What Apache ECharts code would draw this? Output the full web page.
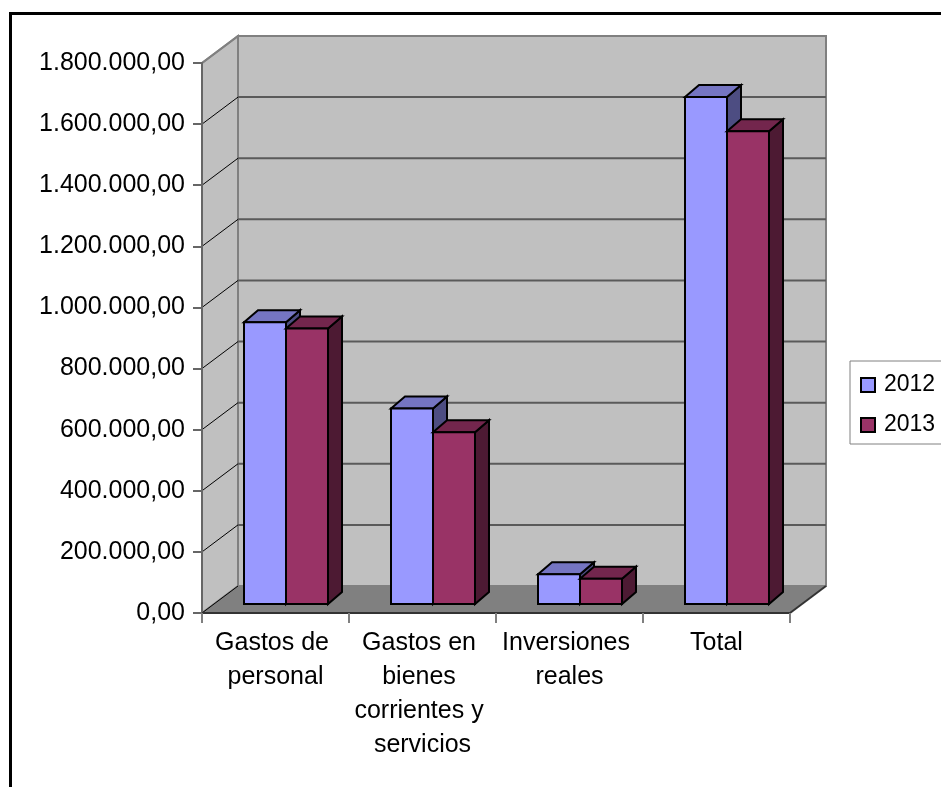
<!DOCTYPE html>
<html>
<head>
<meta charset="utf-8">
<script src="https://cdn.jsdelivr.net/npm/echarts@6/dist/echarts.min.js"></script>
<style>
  html, body { margin: 0; padding: 0; background: #fff; }
  #chart { width: 941px; height: 787px; }
</style>
</head>
<body>
<div id="chart"></div>
<script>
// Budget chapters, two years
const categories = ['Gastos de personal', 'Gastos en bienes corrientes y servicios', 'Inversiones reales', 'Total'];
const seriesNames = ['2012', '2013'];
const values2012 = [922000, 640000, 97000, 1659000];
const values2013 = [902000, 562000, 83000, 1547000];
const yMin = 0;
const yMax = 1800000;
const yStep = 200000;

// 3D look: depth of the whole plot box and of the bars (pixels)
const DEPTH_DX = 36, DEPTH_DY = -27;
const FRONT_DX = 10.5, FRONT_DY = -9;
const BAR_DX = 14, BAR_DY = -12;
const BAR_RATIO = 0.2857;

const FONT = '"Liberation Sans", Arial, sans-serif';

const palette = {
  '2012': { front: '#9999FF', top: '#7575C2', side: '#4D4D82' },
  '2013': { front: '#993366', top: '#73264D', side: '#4D1A33' }
};

function formatEs(v) {
  const s = Math.round(v).toString().replace(/\B(?=(\d{3})+(?!\d))/g, '.');
  return s + ',00';
}

const tickValues = [];
for (let t = yMin; t <= yMax; t += yStep) tickValues.push(t);

// walls, floor and gridlines of the 3D box
function renderWalls(params, api) {
  const cs = params.coordSys;
  const x0 = cs.x, x1 = cs.x + cs.width;
  const yTop = api.coord([0, yMax])[1];
  const yBase = api.coord([0, yMin])[1];
  const children = [];
  // back wall
  children.push({ type: 'polygon', shape: { points: [
    [x0 + DEPTH_DX, yTop + DEPTH_DY], [x1 + DEPTH_DX, yTop + DEPTH_DY],
    [x1 + DEPTH_DX, yBase + DEPTH_DY], [x0 + DEPTH_DX, yBase + DEPTH_DY]] },
    style: { fill: '#C0C0C0', stroke: '#808080', lineWidth: 2 } });
  // side wall
  children.push({ type: 'polygon', shape: { points: [
    [x0, yTop], [x0 + DEPTH_DX, yTop + DEPTH_DY],
    [x0 + DEPTH_DX, yBase + DEPTH_DY], [x0, yBase]] },
    style: { fill: '#C0C0C0', stroke: '#808080', lineWidth: 2 } });
  // floor
  children.push({ type: 'polygon', shape: { points: [
    [x0, yBase], [x0 + DEPTH_DX, yBase + DEPTH_DY],
    [x1 + DEPTH_DX, yBase + DEPTH_DY], [x1, yBase]] },
    style: { fill: '#808080', stroke: null } });
  children.push({ type: 'line', shape: { x1: x1, y1: yBase, x2: x1 + DEPTH_DX, y2: yBase + DEPTH_DY },
    style: { stroke: '#333333', lineWidth: 2 } });
  tickValues.forEach(function (t) {
    const y = api.coord([0, t])[1];
    if (t > yMin && t < yMax) {
      children.push({ type: 'line', shape: { x1: x0 + DEPTH_DX, y1: y + DEPTH_DY, x2: x1 + DEPTH_DX, y2: y + DEPTH_DY },
        style: { stroke: '#5A5A5A', lineWidth: 2 } });
    }
    children.push({ type: 'line', shape: { x1: x0, y1: y, x2: x0 + DEPTH_DX, y2: y + DEPTH_DY },
      style: { stroke: t === yMax ? '#808080' : '#000000', lineWidth: t === yMax ? 2 : 1 } });
  });
  return { type: 'group', children: children };
}

function makeBarRenderer(name, slot) {
  const c = palette[name];
  return function (params, api) {
    const i = api.value(0);
    const v = api.value(1);
    const top = api.coord([i, v]);
    const base = api.coord([i, 0]);
    const band = api.size([1, 0])[0];
    const w = band * BAR_RATIO;
    const cx = top[0] + FRONT_DX;
    const xl = slot === 0 ? cx - w : cx;
    const xr = xl + w;
    const yt = top[1] + FRONT_DY;
    const yb = base[1] + FRONT_DY;
    const stroke = { stroke: '#000', lineWidth: 2, lineJoin: 'miter' };
    return { type: 'group', children: [
      { type: 'polygon', shape: { points: [[xr, yt], [xr + BAR_DX, yt + BAR_DY], [xr + BAR_DX, yb + BAR_DY], [xr, yb]] },
        style: Object.assign({ fill: c.side }, stroke) },
      { type: 'polygon', shape: { points: [[xl, yt], [xl + BAR_DX, yt + BAR_DY], [xr + BAR_DX, yt + BAR_DY], [xr, yt]] },
        style: Object.assign({ fill: c.top }, stroke) },
      { type: 'rect', shape: { x: xl, y: yt, width: w, height: yb - yt },
        style: Object.assign({ fill: c.front }, stroke) }
    ] };
  };
}

const chart = echarts.init(document.getElementById('chart'), null, { renderer: 'canvas' });

chart.setOption({
  animation: false,
  backgroundColor: '#ffffff',
  textStyle: { fontFamily: FONT },
  graphic: [{
    type: 'rect', z: 100, silent: true,
    shape: { x: 10.5, y: 13.5, width: 1200, height: 1200 },
    style: { fill: null, stroke: '#000', lineWidth: 3 }
  }],
  grid: { left: 202, right: 151, top: 63, bottom: 174, containLabel: false },
  legend: {
    data: seriesNames,
    orient: 'vertical',
    left: 850,
    top: 361,
    padding: [11, 12, 6, 10],
    itemWidth: 14,
    itemHeight: 14,
    itemGap: 14,
    icon: 'rect',
    borderColor: '#808080',
    borderWidth: 1,
    backgroundColor: '#fff',
    itemStyle: { borderColor: '#000', borderWidth: 2 },
    textStyle: { fontSize: 23, color: '#000', fontFamily: FONT, lineHeight: 26, padding: [0, 0, 0, 4] }
  },
  xAxis: {
    type: 'category',
    data: categories,
    z: 5,
    axisLine: { lineStyle: { color: '#333', width: 2 } },
    axisTick: { show: true, length: 10, lineStyle: { color: '#808080', width: 2 } },
    axisLabel: {
      interval: 0, margin: 13, fontSize: 25, color: '#000', fontFamily: FONT,
      lineHeight: 34, width: 145, overflow: 'break', align: 'center'
    },
    splitLine: { show: false }
  },
  yAxis: {
    type: 'value',
    min: yMin, max: yMax, interval: yStep,
    z: 5,
    axisLine: { show: true, lineStyle: { color: '#666', width: 2 } },
    axisTick: { show: true, length: 9, lineStyle: { color: '#666', width: 2 } },
    axisLabel: { margin: 17, fontSize: 25, color: '#000', fontFamily: FONT, formatter: formatEs },
    splitLine: { show: false }
  },
  series: [
    {
      type: 'custom', name: 'walls', z: 1, silent: true,
      renderItem: renderWalls,
      data: [[0, 0]],
      encode: { x: 0, y: 1 }
    },
    {
      type: 'custom', name: '2012', z: 2,
      itemStyle: { color: palette['2012'].front },
      renderItem: makeBarRenderer('2012', 0),
      data: values2012.map(function (v, i) { return [i, v]; }),
      encode: { x: 0, y: 1 }
    },
    {
      type: 'custom', name: '2013', z: 2,
      itemStyle: { color: palette['2013'].front },
      renderItem: makeBarRenderer('2013', 1),
      data: values2013.map(function (v, i) { return [i, v]; }),
      encode: { x: 0, y: 1 }
    }
  ]
});
</script>
</body>
</html>
